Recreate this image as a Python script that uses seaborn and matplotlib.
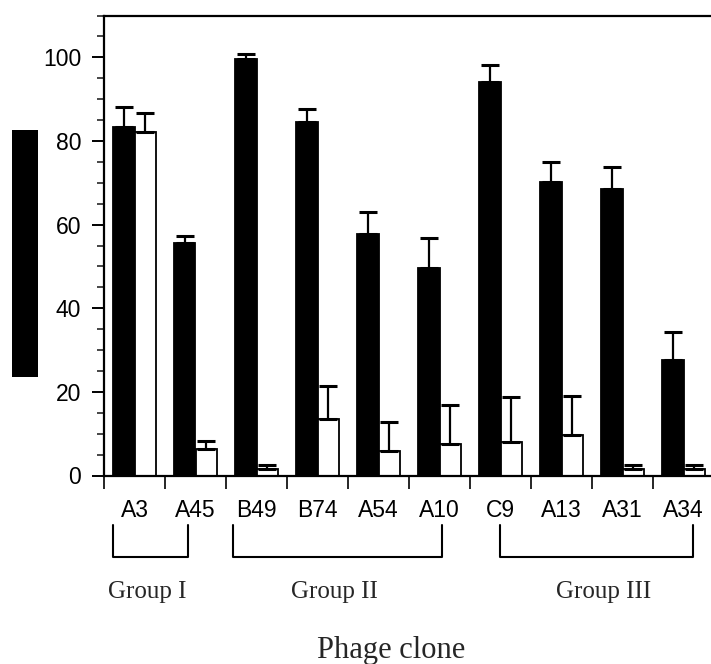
import numpy as np
import pandas as pd
import matplotlib
matplotlib.use("Agg")
import matplotlib.pyplot as plt
import seaborn as sns
from matplotlib.patches import Rectangle
from matplotlib.lines import Line2D
from matplotlib.ticker import MultipleLocator
import matplotlib.transforms as mtransforms

# ---------------- data ----------------
clones = ["A3", "A45", "B49", "B74", "A54", "A10", "C9", "A13", "A31", "A34"]
filled_values = [83.4, 55.5, 99.5, 84.5, 57.8, 49.6, 94.2, 70.3, 68.4, 27.6]
filled_errors = [4.7, 1.8, 1.2, 3.2, 5.2, 7.3, 4.0, 4.7, 5.4, 6.8]
open_values = [82.2, 6.4, 1.5, 13.6, 5.8, 7.6, 8.0, 9.6, 1.5, 1.5]
open_errors = [4.6, 1.8, 1.0, 7.9, 6.9, 9.3, 10.7, 9.5, 1.0, 1.0]
series_names = ["Filled", "Open"]
group_names = ["Group I", "Group II", "Group III"]
group_members = [("A3", "A45"), ("B49", "A10"), ("C9", "A34")]
y_tick_values = [0, 20, 40, 60, 80, 100]
x_title = "Phage clone"

df = pd.DataFrame({
    "clone": clones * 2,
    "series": [series_names[0]] * len(clones) + [series_names[1]] * len(clones),
    "value": filled_values + open_values,
})
errs = {series_names[0]: filled_errors, series_names[1]: open_errors}

# ---------------- figure ----------------
sns.set_style("ticks")
plt.rcParams["font.family"] = ["Liberation Sans", "DejaVu Sans"]

W, H = 711, 664
fig = plt.figure(figsize=(W / 100, H / 100), dpi=100)
ax = fig.add_axes([104 / W, 188.5 / H, 610 / W, 460 / H])

sns.barplot(data=df, x="clone", y="value", hue="series", order=clones,
            hue_order=series_names,
            palette={series_names[0]: "black", series_names[1]: "white"},
            edgecolor="black", linewidth=1.3, width=0.7, saturation=1,
            errorbar=None, legend=False, ax=ax)

for cont, name in zip(ax.containers, series_names):
    xs = [p.get_x() + p.get_width() / 2 for p in cont]
    hs = [p.get_height() for p in cont]
    e = errs[name]
    ax.errorbar(xs, hs, yerr=[np.zeros(len(e)), e], fmt="none",
                ecolor="black", elinewidth=1.6, capsize=6.5, capthick=2.2,
                zorder=5)

ax.set_xlim(-0.5, len(clones) - 0.5)
ax.set_ylim(0, 110)
ax.set_xlabel("")
ax.set_ylabel("")

ax.set_yticks(y_tick_values)
ax.set_yticklabels([str(v) for v in y_tick_values])
ax.yaxis.set_minor_locator(MultipleLocator(5))
ax.tick_params(axis="y", which="major", direction="out", length=8.5,
               width=1.4, pad=8, labelsize=16.5, colors="black")
ax.tick_params(axis="y", which="minor", direction="out", length=5,
               width=1.2)

ax.set_xticks(range(len(clones)))
ax.set_xticklabels(clones)
ax.set_xticks(np.arange(-0.5, len(clones) - 0.5, 1), minor=True)
ax.tick_params(axis="x", which="major", length=0, pad=17, labelsize=16.5,
               colors="black")
ax.tick_params(axis="x", which="minor", direction="out", length=9,
               width=1.4)

for side in ["left", "bottom", "top"]:
    ax.spines[side].set_visible(True)
    ax.spines[side].set_linewidth(1.6)
    ax.spines[side].set_color("black")
ax.spines["right"].set_visible(False)

# group brackets (x in data units, y in figure fraction)
trans = mtransforms.blended_transform_factory(ax.transData, fig.transFigure)
bracket_pad = [(-0.35, -0.12), (-0.39, 0.04), (-0.01, 0.16)]
label_shift = [-0.06, -0.04, 0.12]
y_top, y_bot = (H - 525) / H, (H - 557) / H
for name, (a, b), (pa, pb), ls in zip(group_names, group_members,
                                       bracket_pad, label_shift):
    xa = clones.index(a) + pa
    xb = clones.index(b) + pb
    fig.add_artist(Line2D([xa, xa, xb, xb], [y_top, y_bot, y_bot, y_top],
                          transform=trans, color="black", lw=1.5))
    fig.text((xa + xb) / 2 + ls, (H - 598) / H, name, transform=trans,
             ha="center", va="baseline", fontsize=18,
             family=["Liberation Serif", "DejaVu Serif"])

fig.text(391 / W, (H - 658) / H, x_title, ha="center", va="baseline",
         fontsize=22, family=["Liberation Serif", "DejaVu Serif"])

# redacted y-axis title block
fig.add_artist(Rectangle((12 / W, (H - 377) / H), 26 / W, 247 / H,
                         transform=fig.transFigure, facecolor="black",
                         edgecolor="none"))

fig.savefig("out.png", dpi=100)
